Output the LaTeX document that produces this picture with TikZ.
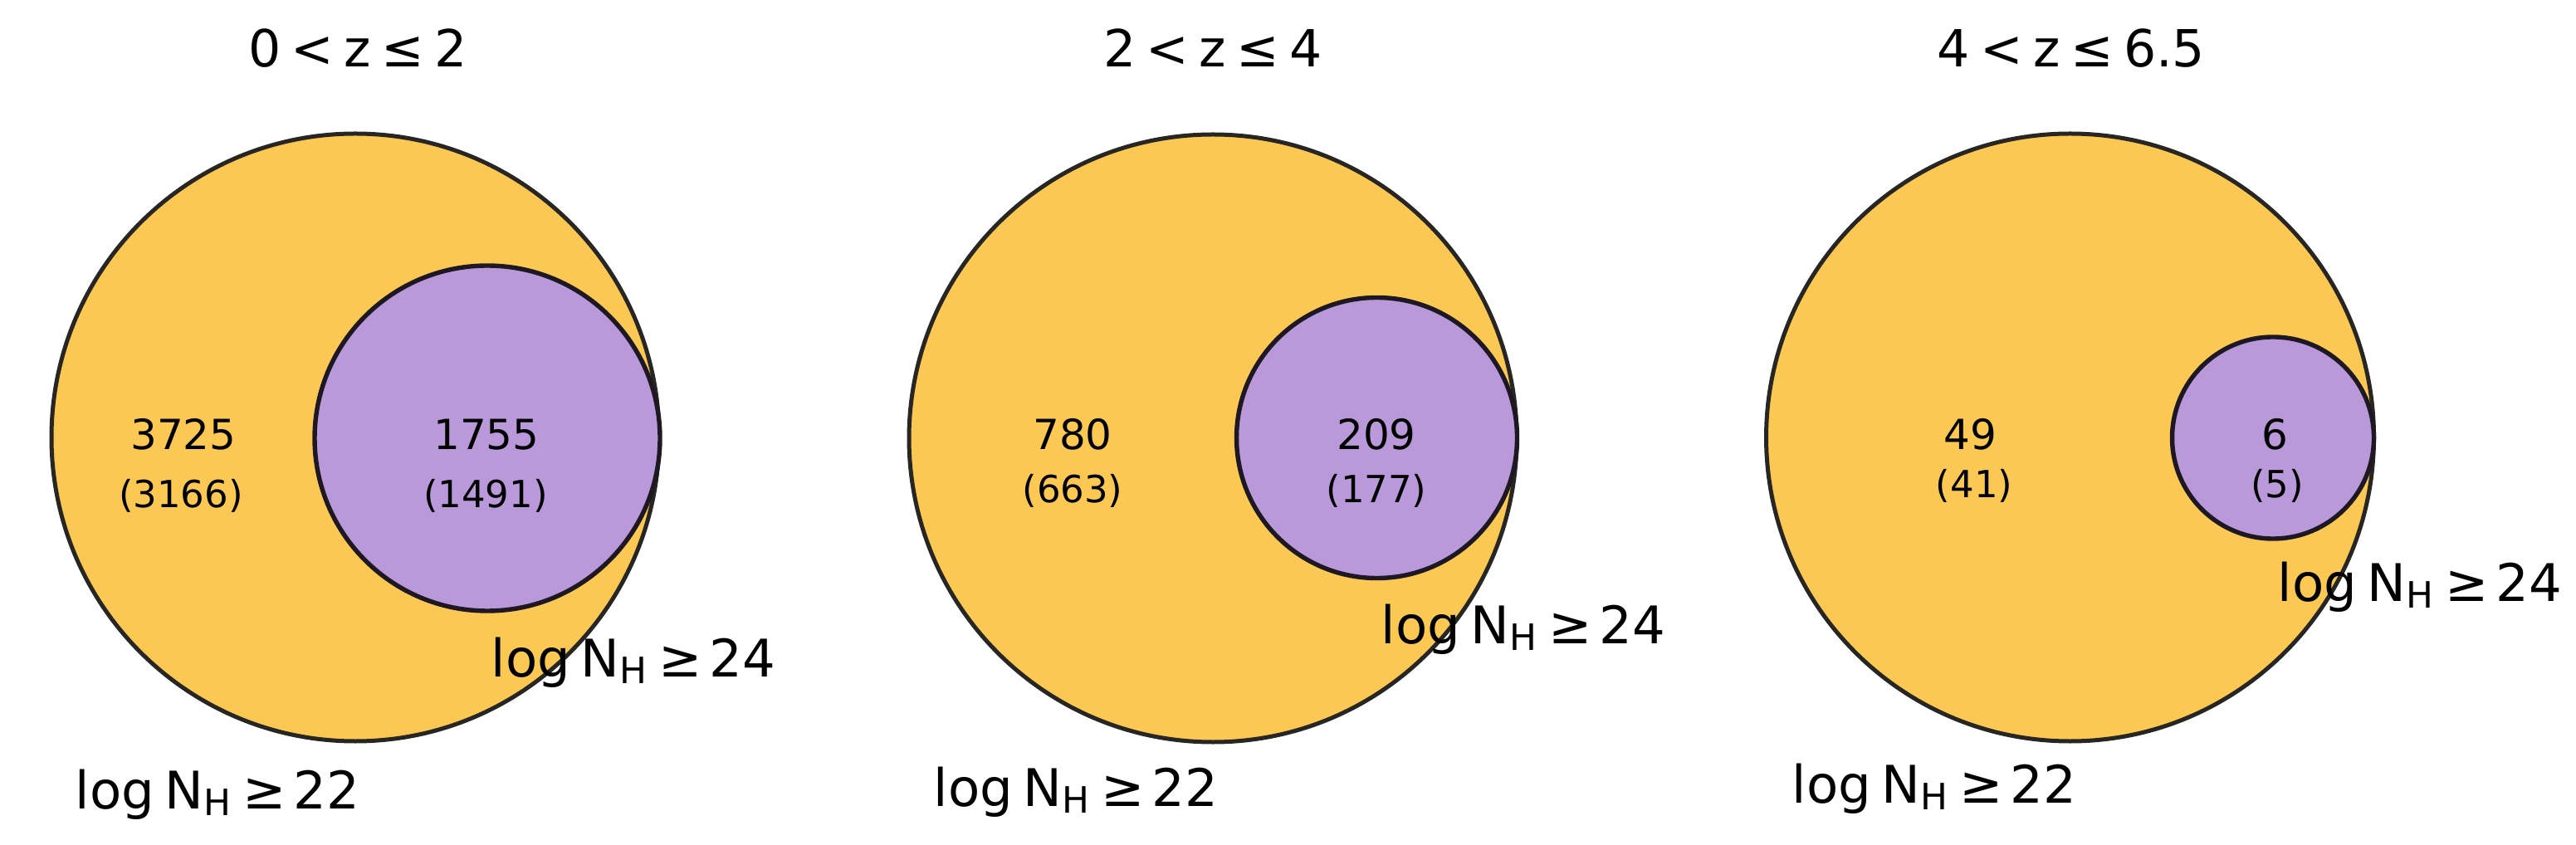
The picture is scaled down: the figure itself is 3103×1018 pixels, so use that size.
\documentclass[tikz,border=0pt]{standalone}
\usepackage{fontspec}
\setmainfont{DejaVu Sans}
\definecolor{vyellow}{RGB}{252,200,84}
\definecolor{vpurple}{RGB}{185,153,217}
\definecolor{vedge}{RGB}{40,38,34}
\definecolor{pedge}{RGB}{30,24,34}
\newcommand{\nhlabel}[1]{log\hspace{0.2em}N\raisebox{-0.14em}{\fontsize{10.5pt}{12pt}\selectfont H}\hspace{0.22em}≥\hspace{0.15em}#1}
\newcommand{\zrange}[2]{#1\hspace{0.2em}<\hspace{0.2em}z\hspace{0.2em}≤\hspace{0.2em}#2}
\tikzset{
  bigset/.style={fill=vyellow, draw=vedge, line width=1.2pt},
  smallset/.style={fill=vpurple, draw=pedge, line width=1.3pt},
  titletext/.style={anchor=base, inner sep=0pt, font=\fontsize{14.8pt}{17pt}\selectfont},
  setlabel/.style={anchor=base west, inner sep=0pt, font=\fontsize{15pt}{17pt}\selectfont},
  counttext/.style={anchor=base, inner sep=0pt, font=\fontsize{12pt}{14pt}\selectfont},
  subcount/.style={anchor=base, inner sep=0pt, font=\fontsize{10.8pt}{13pt}\selectfont}
}
\begin{document}
\begin{tikzpicture}[x=0.24pt, y=-0.24pt]
\useasboundingbox (0,0) rectangle (3103,1018);
% panel 1
\path[bigset] (428,527) circle[radius=366];
\path[smallset] (587,528) circle[radius=208];
\node[titletext] (t1) at (431,81) {\zrange{0}{2}};
\node[counttext] (a1) at (221,542) {3725};
\node[subcount] (a1s) at (218,612) {(3166)};
\node[counttext] (b1) at (586,542) {1755};
\node[subcount] (b1s) at (585,612) {(1491)};
\node[setlabel] (l22a) at (90,974) {\nhlabel{22}};
\node[setlabel] (l24a) at (591,815) {\nhlabel{24}};
% panel 2
\path[bigset] (1461,528) circle[radius=366];
\path[smallset] (1658.5,527.5) circle[radius=169];
\node[titletext] (t2) at (1461,81) {\zrange{2}{4}};
\node[counttext] (a2) at (1292,542) {780};
\node[subcount] (a2s) at (1292,606) {(663)};
\node[counttext] (b2) at (1658,542) {209};
\node[subcount] (b2s) at (1658,606) {(177)};
\node[setlabel] (l22b) at (1124,971) {\nhlabel{22}};
\node[setlabel] (l24b) at (1663,775) {\nhlabel{24}};
% panel 3
\path[bigset] (2493.5,527) circle[radius=366];
\path[smallset] (2738,527.5) circle[radius=121.5];
\node[titletext] (t3) at (2495,81) {\zrange{4}{6.5}};
\node[counttext] (a3) at (2373,542) {49};
\node[subcount] (a3s) at (2378,600) {(41)};
\node[counttext] (b3) at (2740,542) {6};
\node[subcount] (b3s) at (2743,600) {(5)};
\node[setlabel] (l22c) at (2158,967) {\nhlabel{22}};
\node[setlabel] (l24c) at (2743,724) {\nhlabel{24}};
\end{tikzpicture}
\end{document}
